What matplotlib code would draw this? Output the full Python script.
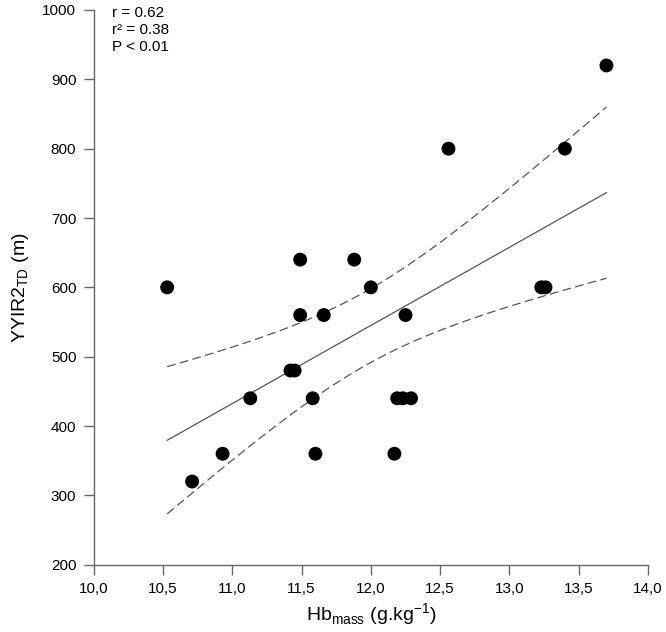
import numpy as np
import matplotlib
matplotlib.use("Agg")
import matplotlib.pyplot as plt
from matplotlib.ticker import FuncFormatter

# Hb mass (g.kg-1) and YYIR2 distance (m)
hb_mass = [10.53, 10.71, 10.93, 11.13, 11.42, 11.45, 11.49, 11.49, 11.58, 11.60,
           11.66, 11.88, 12.00, 12.17, 12.19, 12.23, 12.29, 12.25, 12.56, 13.23,
           13.26, 13.40, 13.70]
yyir2 = [600, 320, 360, 440, 480, 480, 560, 640, 440, 360,
         560, 640, 600, 360, 440, 440, 440, 560, 800, 600,
         600, 800, 920]

stats_lines = ["r = 0.62", "r\u00b2 = 0.38", "P < 0.01"]

T_95 = 2.080  # t critical value, df = n - 2 = 21

plt.rcParams['font.family'] = ['Liberation Sans', 'DejaVu Sans']
plt.rcParams['mathtext.fontset'] = 'custom'
plt.rcParams['mathtext.rm'] = 'Liberation Sans'

x = np.array(hb_mass)
y = np.array(yyir2)
n = len(x)

# linear regression + 95% confidence band
slope, intercept = np.polyfit(x, y, 1)
xs = np.linspace(x.min(), x.max(), 100)
fit = slope * xs + intercept
resid = y - (slope * x + intercept)
s = np.sqrt(np.sum(resid ** 2) / (n - 2))
sxx = np.sum((x - x.mean()) ** 2)
half = T_95 * s * np.sqrt(1.0 / n + (xs - x.mean()) ** 2 / sxx)

fig = plt.figure(figsize=(6.66, 6.32), dpi=100)
ax = fig.add_axes([0.1407, 0.1065, 0.8323, 0.8777])

ax.plot(xs, fit, color='#555555', lw=0.9)
ax.plot(xs, fit + half, color='#555555', lw=0.9, dashes=(7, 3.5))
ax.plot(xs, fit - half, color='#555555', lw=0.9, dashes=(7, 3.5))
ax.scatter(x, y, s=100, color='black', zorder=3, edgecolors='none')

ax.set_xlim(10, 14)
ax.set_ylim(200, 1000)
ax.set_xticks(np.arange(10, 14.01, 0.5))
ax.set_yticks(np.arange(200, 1001, 100))
ax.xaxis.set_major_formatter(FuncFormatter(lambda v, p: ("%.1f" % v).replace('.', ',')))

for side in ['top', 'right']:
    ax.spines[side].set_visible(False)
for side in ['left', 'bottom']:
    ax.spines[side].set_color('#666666')
    ax.spines[side].set_linewidth(1.0)
ax.tick_params(direction='out', length=7.5, width=1.0, color='#666666',
               labelsize=11, pad=5)

ax.set_xlabel('Hb$_{\\mathregular{mass}}$ (g.kg$^{\\mathregular{-1}}$)', fontsize=14, labelpad=4)
ax.set_ylabel('YYIR2$_{\\mathregular{TD}}$ (m)', fontsize=14, labelpad=8)

for i, line in enumerate(stats_lines):
    ax.text(10.13, 996 - i * 25, line, fontsize=11, va='center', ha='left')

fig.savefig('out.png', dpi=100)
